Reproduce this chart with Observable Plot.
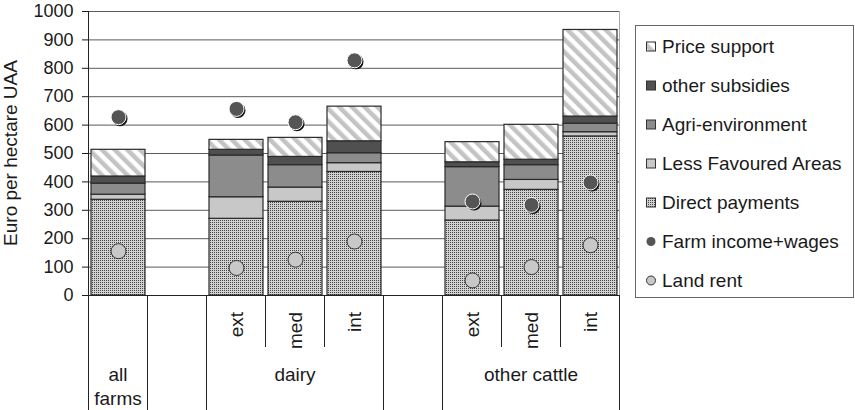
<!DOCTYPE html>
<html><head><meta charset="utf-8">
<script src="https://cdn.jsdelivr.net/npm/d3@7"></script>
<script src="https://cdn.jsdelivr.net/npm/@observablehq/plot@0.6"></script>
<style>body{margin:0;background:#fff;}</style>
</head><body><div id="chart"></div>
<script>
// ---- data ----
const slots = ["all farms","gap1","dairy ext","dairy med","dairy int","gap2","other cattle ext","other cattle med","other cattle int"];
const bars = ["all farms","dairy ext","dairy med","dairy int","other cattle ext","other cattle med","other cattle int"];
const groups = [{label:["all","farms"], from:0, to:1}, {label:["dairy"], from:2, to:5}, {label:["other cattle"], from:6, to:9}];
const subLabels = ["", "", "ext", "med", "int", "", "ext", "med", "int"];
const seriesNames = ["Direct payments","Less Favoured Areas","Agri-environment","other subsidies","Price support"];
const directPayments = [337, 270, 330, 435, 264, 372, 560];
const lessFavoured   = [18, 76, 50, 31, 49, 35, 15];
const agriEnv        = [39, 147, 79, 35, 139, 52, 30];
const otherSubsidies = [25, 20, 29, 42, 17, 19, 25];
const priceSupport   = [94, 35, 67, 122, 71, 123, 305];
const farmIncome     = [628, 657, 610, 828, 331, 319, 398];
const landRent       = [156, 97, 126, 190, 53, 100, 177];
const yTicks = [0,100,200,300,400,500,600,700,800,900,1000];
const yTitle = "Euro per hectare UAA";
const legendItems = ["Price support","other subsidies","Agri-environment","Less Favoured Areas","Direct payments","Farm income+wages","Land rent"];

// ---- tables ----
const seriesValues = [directPayments, lessFavoured, agriEnv, otherSubsidies, priceSupport];
const table = [];
seriesNames.forEach((s, j) => bars.forEach((b, i) => table.push({bar: b, series: s, value: seriesValues[j][i]})));
const points = bars.map((b, i) => ({bar: b, income: farmIncome[i], rent: landRent[i]}));

const fills = {
  "Direct payments": "url(#pDP)",
  "Less Favoured Areas": "#c8c8c8",
  "Agri-environment": "#8c8c8c",
  "other subsidies": "#505050",
  "Price support": "url(#pPS)"
};
const FONT = "'Liberation Sans', Arial, Helvetica, sans-serif";

const plot = Plot.plot({
  width: 855, height: 410,
  marginLeft: 88, marginRight: 235, marginTop: 11, marginBottom: 115,
  style: {fontFamily: FONT, fontSize: "18px", color: "#1a1a1a", background: "#fff", overflow: "visible"},
  x: {domain: slots, paddingInner: 0.09, paddingOuter: 0.045, axis: null},
  y: {domain: [0, 1000], ticks: yTicks, tickSize: 6, tickPadding: 9, label: null, tickFormat: d => String(d)},
  color: {domain: seriesNames, range: seriesNames.map(s => fills[s])},
  marks: [
    Plot.ruleY(yTicks.filter(d => d > 0), {stroke: "#5a5a5a", strokeWidth: 1}),
    Plot.barY(table, {x: "bar", y: "value", fill: "series", stroke: "#2a2a2a", strokeWidth: 1.2}),
    Plot.dot(points, {x: "bar", y: "rent", r: 7.5, fill: "#c8c8c8", stroke: "#333", strokeWidth: 1}),
    Plot.dot(points, {x: "bar", y: "income", r: 7.5, fill: "#111", dx: 1.5, dy: 1.5}),
    Plot.dot(points, {x: "bar", y: "income", r: 7.5, fill: "#555", stroke: "#fff", strokeWidth: 1}),
    Plot.ruleY([0], {stroke: "#222", strokeWidth: 1})
  ]
});

const svg = d3.select(plot);
const defs = svg.insert("defs", ":first-child");
const pdp = defs.append("pattern").attr("id", "pDP").attr("patternUnits", "userSpaceOnUse").attr("width", 2).attr("height", 2);
pdp.append("rect").attr("width", 2).attr("height", 2).attr("fill", "#d2d2d2");
pdp.append("rect").attr("width", 1).attr("height", 1).attr("fill", "#444");
const pps = defs.append("pattern").attr("id", "pPS").attr("patternUnits", "userSpaceOnUse").attr("width", 9).attr("height", 9).attr("patternTransform", "rotate(-45)");
pps.append("rect").attr("width", 9).attr("height", 9).attr("fill", "#fff");
pps.append("rect").attr("width", 4.5).attr("height", 9).attr("fill", "#c4c4c4");

const xs = plot.scale("x"), ys = plot.scale("y");
const step = xs.step, bw = xs.bandwidth;
const bound = k => k < slots.length ? xs.apply(slots[k]) - (step - bw) / 2 : xs.apply(slots[slots.length - 1]) + bw + (step - bw) / 2;
const y0 = ys.apply(0), yTop = ys.apply(1000);
const g = svg.append("g").attr("font-family", FONT).attr("fill", "#1a1a1a");
// frame lines
g.append("line").attr("x1", bound(9)).attr("x2", bound(9)).attr("y1", yTop).attr("y2", y0).attr("stroke", "#aaa");
g.append("line").attr("x1", bound(0)).attr("x2", bound(0)).attr("y1", yTop).attr("y2", y0).attr("stroke", "#222");
// category axis
const longB = new Set([0, 1, 2, 5, 6, 9]);
for (let k = 0; k <= slots.length; k++) {
  const x = bound(k);
  g.append("line").attr("x1", x).attr("x2", x).attr("y1", y0).attr("y2", longB.has(k) ? 410 : y0 + 52).attr("stroke", "#222");
}
subLabels.forEach((t, k) => {
  if (!t) return;
  const cx = xs.apply(slots[k]) + bw / 2;
  g.append("text").attr("transform", `translate(${cx},${y0 + 17}) rotate(-90)`).attr("text-anchor", "end").attr("dy", "0.35em").attr("font-size", 19).text(t);
});
groups.forEach(gr => {
  const cx = (bound(gr.from) + bound(gr.to)) / 2;
  gr.label.forEach((t, i) => {
    g.append("text").attr("x", cx).attr("y", y0 + 79 + i * 24).attr("text-anchor", "middle").attr("dy", "0.35em").attr("font-size", 19).text(t);
  });
});
// y title
g.append("text").attr("transform", `translate(17,${(y0 + yTop) / 2}) rotate(-90)`).attr("text-anchor", "middle").attr("font-size", 19).text(yTitle);
// legend
const lg = svg.append("g").attr("font-family", FONT).attr("text-anchor", "start");
lg.append("rect").attr("x", 635.5).attr("y", 25.5).attr("width", 218).attr("height", 272).attr("fill", "#fff").attr("stroke", "#666");
legendItems.forEach((name, i) => {
  const cy = 46.5 + i * 39;
  if (name === "Farm income+wages") {
    lg.append("circle").attr("cx", 651).attr("cy", cy).attr("r", 4.5).attr("fill", "#555");
  } else if (name === "Land rent") {
    lg.append("circle").attr("cx", 651).attr("cy", cy).attr("r", 4.5).attr("fill", "#c8c8c8").attr("stroke", "#333");
  } else {
    lg.append("rect").attr("x", 646.5).attr("y", cy - 4.5).attr("width", 9).attr("height", 9).attr("fill", fills[name]).attr("stroke", "#333");
  }
  lg.append("text").attr("x", 662).attr("y", cy).attr("dy", "0.35em").attr("font-size", 19).attr("fill", "#1a1a1a").attr("text-anchor", "start").text(name);
});

document.getElementById("chart").appendChild(plot);
</script>
</body></html>
